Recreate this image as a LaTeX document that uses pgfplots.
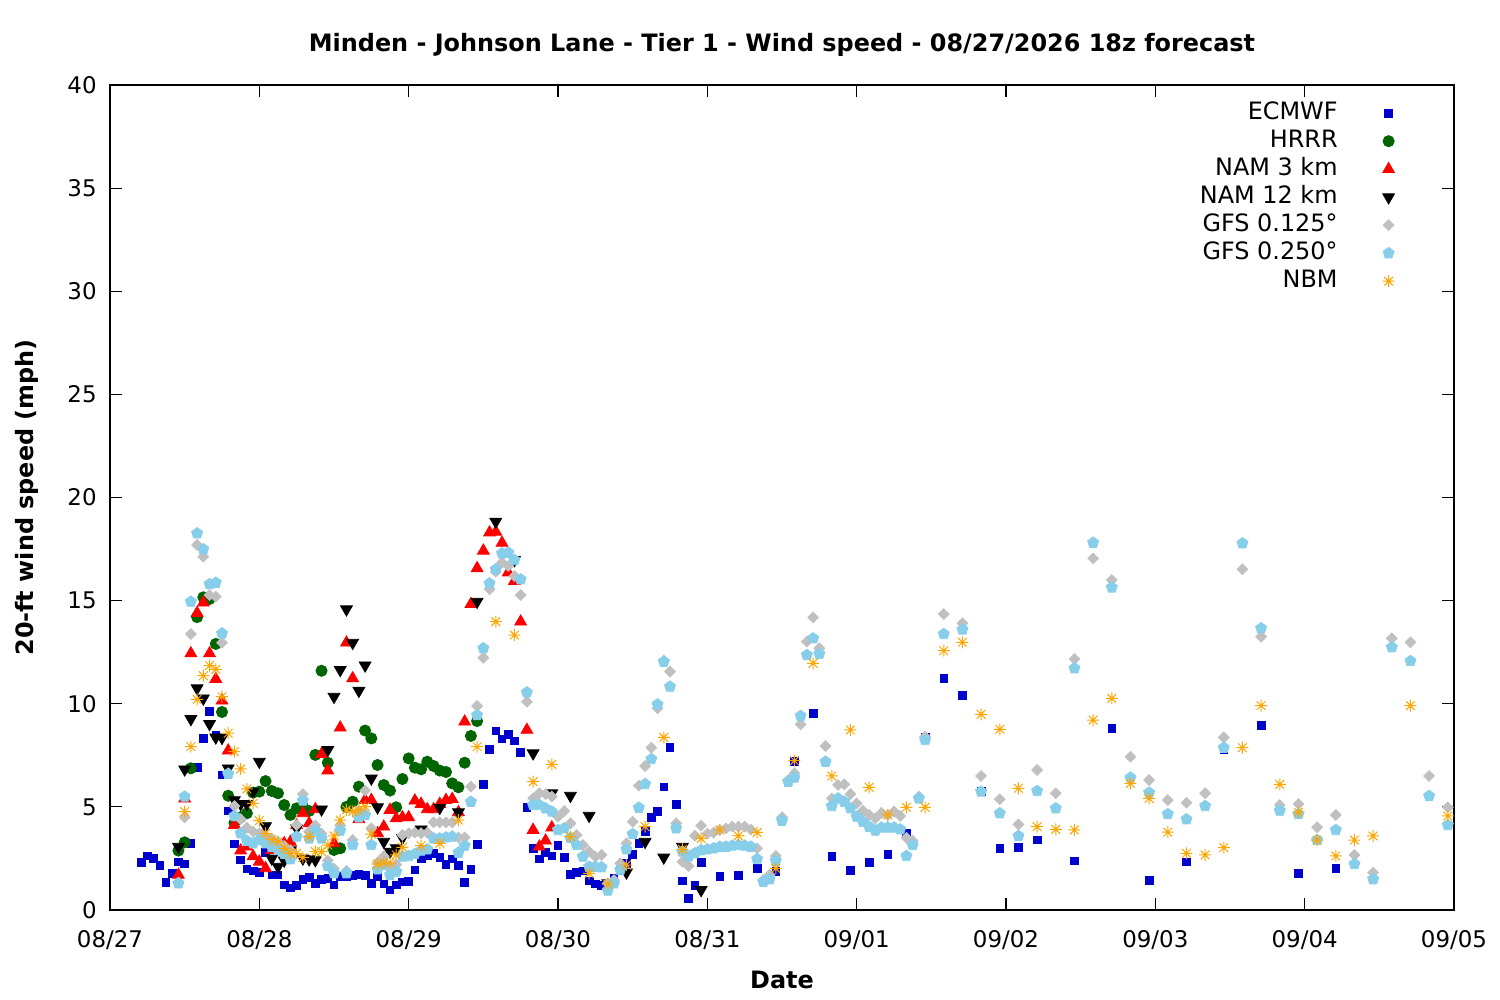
\documentclass[border=0pt]{standalone}
\usepackage{fontspec}
\setmainfont{DejaVu Sans}
\usepackage{pgfplots}
\pgfplotsset{compat=1.18}
\definecolor{cEC}{HTML}{0000CC}
\definecolor{cHR}{HTML}{006400}
\definecolor{cNT}{HTML}{FF0000}
\definecolor{cNW}{HTML}{000000}
\definecolor{cGA}{HTML}{C0C0C0}
\definecolor{cGB}{HTML}{87CEEB}
\definecolor{cNB}{HTML}{FFA500}
\pgfdeclareplotmark{ast8}{%
 \pgfpathmoveto{\pgfqpoint{-\pgfplotmarksize}{0pt}}\pgfpathlineto{\pgfqpoint{\pgfplotmarksize}{0pt}}%
 \pgfpathmoveto{\pgfqpoint{0pt}{-\pgfplotmarksize}}\pgfpathlineto{\pgfqpoint{0pt}{\pgfplotmarksize}}%
 \pgfpathmoveto{\pgfqpoint{-.72\pgfplotmarksize}{-.72\pgfplotmarksize}}\pgfpathlineto{\pgfqpoint{.72\pgfplotmarksize}{.72\pgfplotmarksize}}%
 \pgfpathmoveto{\pgfqpoint{-.72\pgfplotmarksize}{.72\pgfplotmarksize}}\pgfpathlineto{\pgfqpoint{.72\pgfplotmarksize}{-.72\pgfplotmarksize}}%
 \pgfusepathqstroke}
\begin{document}
\begin{tikzpicture}
\path[use as bounding box] (-55bp,-45bp) rectangle (695bp,455bp);
\begin{axis}[
 at={(0,0)}, anchor=south west,
 scale only axis, width=672bp, height=412.5bp,
 xmin=0, xmax=216, ymin=0, ymax=40,
 xtick={0,24,...,216},
 xticklabels={08/27,08/28,08/29,08/30,08/31,09/01,09/02,09/03,09/04,09/05},
 ytick={0,5,...,40},
 tick align=inside,
 major tick length=6bp,
 minor tick num=0,
 axis line style={line width=0.6bp},
 every tick/.style={line width=0.6bp, black},
 /pgf/number format/assume math mode=true,
 tick label style={font=\fontsize{11.5}{13}\selectfont, inner sep=0pt},
 xticklabel style={anchor=north, yshift=-10bp},
 yticklabel style={anchor=east, xshift=-6.5bp},
 title={Minden - Johnson Lane - Tier 1 - Wind speed - 08/27/2026 18z forecast},
 title style={font=\fontsize{12}{14}\selectfont\bfseries, at={(axis description cs:0.5,1)}, anchor=center, yshift=14bp},
 xlabel={Date},
 xlabel style={font=\fontsize{12}{14}\selectfont\bfseries, at={(axis description cs:0.5,0)}, anchor=center, yshift=-35bp},
 ylabel={20-ft wind speed (mph)},
 ylabel style={font=\fontsize{12}{14}\selectfont\bfseries, at={(axis description cs:0,0.5)}, anchor=center, yshift=41.5bp},
 legend plot pos=right,
 legend cell align=right,
 legend style={draw=none, fill=none, at={(axis description cs:1,1)}, anchor=north east, xshift=-29.5bp, yshift=-7.9bp,
   font=\fontsize{12}{14}\selectfont, inner sep=0pt, row sep=2bp, column sep=22.5bp,
   nodes={inner sep=0pt, text height=9bp, text depth=3bp}},
 only marks,
]
\addplot[mark=square*, mark size=1.9bp, color=cEC, mark options={draw=cEC, fill=cEC}] coordinates {
(5,2.31)(6,2.62)(7,2.50)(8,2.15)(9,1.34)(10,1.78)(11,2.34)(12,2.23)(13,3.23)(14,6.92)(15,8.32)(16,9.63)(17,8.47)(18,6.55)(19,4.80)(20,3.20)(21,2.42)(22,1.99)(23,1.89)(24,1.83)(25,2.80)(26,1.70)(27,1.70)(28,1.21)(29,1.08)(30,1.20)(31,1.47)(32,1.57)(33,1.29)(34,1.49)(35,1.54)(36,1.21)(37,1.62)(38,1.62)(39,1.68)(40,1.73)(41,1.68)(42,1.29)(43,1.62)(44,1.26)(45,0.97)(46,1.21)(47,1.37)(48,1.39)(49,1.94)(50,2.50)(51,2.62)(52,2.75)(53,2.55)(54,2.22)(55,2.48)(56,2.15)(57,1.35)(58,1.98)(59,3.19)(60,6.10)(61,7.80)(62,8.69)(63,8.30)(64,8.50)(65,8.20)(66,7.64)(67,4.98)(68,2.99)(69,2.47)(70,2.78)(71,2.63)(72,3.12)(73,2.55)(74,1.73)(75,1.83)(76,1.89)(77,1.41)(78,1.26)(79,1.18)(80,1.21)(81,1.54)(82,1.91)(83,2.26)(84,2.69)(85,3.23)(86,3.80)(87,4.49)(88,4.77)(89,5.96)(90,7.89)(91,5.12)(92,1.41)(93,0.57)(94,1.20)(95,2.31)(98,1.63)(101,1.68)(104,2.02)(107,1.88)(110,7.20)(113,9.54)(116,2.59)(119,1.91)(122,2.31)(125,2.70)(128,3.72)(131,8.36)(134,11.23)(137,10.40)(140,5.74)(143,2.99)(146,3.04)(149,3.39)(155,2.38)(161,8.81)(167,1.44)(173,2.34)(179,7.76)(185,8.95)(191,1.78)(197,2.02)
};
\addlegendentry{ECMWF}
\addplot[mark=*, mark size=2.8bp, color=cHR, mark options={draw=cHR, fill=cHR}] coordinates {
(11,2.88)(12,3.28)(13,6.87)(14,14.20)(15,15.16)(16,15.08)(17,12.90)(18,9.60)(19,5.54)(20,4.23)(21,4.50)(22,4.69)(23,5.69)(24,5.74)(25,6.25)(26,5.77)(27,5.66)(28,5.09)(29,4.61)(30,4.93)(31,5.01)(32,4.80)(33,7.52)(34,11.60)(35,7.14)(36,2.91)(37,2.99)(38,5.00)(39,5.25)(40,5.98)(41,8.70)(42,8.32)(43,7.03)(44,6.06)(45,5.79)(46,4.98)(47,6.35)(48,7.35)(49,6.90)(50,6.82)(51,7.19)(52,6.98)(53,6.76)(54,6.69)(55,6.14)(56,5.95)(57,7.14)(58,8.44)(59,9.16)
};
\addlegendentry{HRRR}
\addplot[mark=triangle*, mark size=3.4bp, color=cNT, mark options={draw=cNT, fill=cNT}] coordinates {
(11,1.70)(12,5.40)(13,12.44)(14,14.40)(15,14.90)(16,12.44)(17,11.20)(18,10.15)(19,7.73)(20,4.12)(21,2.88)(22,3.07)(23,2.60)(24,2.34)(25,2.02)(26,2.90)(27,3.00)(28,3.23)(29,3.30)(30,4.10)(31,4.69)(32,4.20)(33,4.88)(34,7.56)(35,6.76)(36,3.23)(37,8.84)(38,12.96)(39,11.23)(40,4.40)(41,5.33)(42,5.33)(43,3.72)(44,4.04)(45,4.85)(46,4.44)(47,4.49)(48,4.49)(49,5.30)(50,5.14)(51,4.88)(52,4.88)(53,5.14)(54,5.33)(55,5.38)(56,4.74)(57,9.13)(58,14.83)(59,16.57)(60,17.42)(61,18.30)(62,18.34)(63,17.80)(64,16.36)(65,15.95)(66,13.98)(67,8.73)(68,3.88)(69,3.07)(70,3.36)(71,4.00)
};
\addlegendentry{NAM 3 km}
\addplot[mark=triangle*, mark size=3.4bp, color=cNW, mark options={draw=cNW, fill=cNW, rotate=180}] coordinates {
(11,3.07)(12,6.82)(13,9.26)(14,10.75)(15,10.26)(16,9.02)(17,8.37)(18,8.35)(19,6.87)(20,5.33)(21,5.14)(22,5.14)(23,5.74)(24,7.19)(25,4.07)(26,2.50)(27,2.10)(28,2.40)(29,2.90)(30,3.96)(31,2.50)(32,2.46)(33,2.42)(34,4.88)(35,7.76)(36,10.34)(37,11.64)(38,14.58)(39,12.96)(40,10.63)(41,11.86)(42,6.38)(43,4.98)(44,3.31)(45,2.83)(46,3.00)(47,3.50)(50,3.91)(53,4.96)(56,4.74)(59,14.95)(62,18.83)(65,16.97)(68,7.60)(71,5.66)(74,5.54)(77,4.57)(80,1.30)(83,1.82)(86,3.31)(89,2.55)(92,3.07)(95,0.97)
};
\addlegendentry{NAM 12 km}
\addplot[mark=square*, mark size=1.9bp, color=cGA, mark options={draw=cGA, fill=cGA, rotate=45}] coordinates {
(11,1.33)(12,4.49)(13,13.38)(14,17.70)(15,17.13)(16,15.27)(17,15.19)(18,12.96)(19,6.63)(20,5.04)(21,4.40)(22,3.99)(23,3.80)(24,3.72)(25,3.60)(26,3.45)(27,3.30)(28,3.10)(29,2.90)(30,4.12)(31,5.62)(32,3.80)(33,4.10)(34,3.70)(35,2.40)(36,2.00)(37,4.10)(38,1.90)(39,3.40)(40,4.80)(41,5.79)(42,3.96)(43,2.30)(44,2.60)(45,2.00)(46,2.20)(47,3.64)(48,3.72)(49,3.75)(50,3.72)(51,3.75)(52,4.25)(53,4.25)(54,4.25)(55,4.25)(56,3.52)(57,3.52)(58,5.98)(59,9.89)(60,12.23)(61,15.55)(62,16.40)(63,16.84)(64,16.68)(65,16.19)(66,15.27)(67,10.10)(68,5.41)(69,5.66)(70,5.62)(71,5.50)(72,4.53)(73,4.80)(74,4.20)(75,3.64)(76,3.15)(77,2.83)(78,2.59)(79,2.67)(80,1.29)(81,1.45)(82,2.26)(83,3.23)(84,4.28)(85,6.03)(86,6.98)(87,7.87)(88,9.78)(89,12.10)(90,11.56)(91,4.20)(92,2.34)(93,2.13)(94,3.60)(95,4.09)(96,3.70)(97,3.75)(98,3.88)(99,3.95)(100,4.04)(101,4.04)(102,4.04)(103,3.90)(104,2.99)(105,1.45)(106,1.70)(107,2.62)(108,4.50)(109,6.30)(110,6.63)(111,9.00)(112,13.01)(113,14.19)(114,12.69)(115,7.95)(116,5.41)(117,6.06)(118,6.09)(119,5.62)(120,5.17)(121,4.82)(122,4.61)(123,4.44)(124,4.71)(125,4.61)(126,4.77)(127,4.56)(128,3.50)(129,3.36)(130,5.50)(131,8.40)(134,14.35)(137,13.90)(140,6.50)(143,5.37)(146,4.15)(149,6.79)(152,5.66)(155,12.17)(158,17.05)(161,16.00)(164,7.43)(167,6.30)(170,5.33)(173,5.20)(176,5.66)(179,8.37)(182,16.52)(185,13.25)(188,5.09)(191,5.14)(194,4.01)(197,4.61)(200,2.67)(203,1.81)(206,13.17)(209,12.98)(212,6.50)(215,4.98)
};
\addlegendentry{GFS 0.125°}
\addplot[mark=pentagon*, mark size=2.9bp, color=cGB, mark options={draw=cGB, fill=cGB}] coordinates {
(11,1.29)(12,5.50)(13,14.95)(14,18.26)(15,17.49)(16,15.80)(17,15.87)(18,13.41)(19,6.60)(20,4.56)(21,3.72)(22,3.36)(23,3.23)(24,3.39)(25,3.23)(26,3.07)(27,2.91)(28,2.72)(29,2.46)(30,3.56)(31,5.31)(32,3.47)(33,3.85)(34,3.47)(35,2.13)(36,1.78)(37,3.85)(38,1.78)(39,3.15)(40,4.49)(41,4.60)(42,3.15)(43,1.97)(44,2.18)(45,1.70)(46,1.86)(47,2.59)(48,2.62)(49,2.72)(50,2.88)(51,2.94)(52,3.47)(53,3.47)(54,3.52)(55,3.56)(56,2.78)(57,3.12)(58,5.25)(59,9.45)(60,12.69)(61,15.84)(62,16.52)(63,17.29)(64,17.33)(65,16.97)(66,16.03)(67,10.55)(68,5.09)(69,5.09)(70,4.93)(71,4.77)(72,3.88)(73,3.96)(74,3.50)(75,3.15)(76,2.59)(77,2.10)(78,2.10)(79,2.07)(80,0.94)(81,1.29)(82,1.94)(83,2.94)(84,3.68)(85,4.96)(86,6.11)(87,7.32)(88,9.97)(89,12.04)(90,10.83)(91,3.96)(92,2.83)(93,2.60)(94,2.75)(95,2.90)(96,2.94)(97,2.99)(98,3.07)(99,3.07)(100,3.12)(101,3.15)(102,3.12)(103,3.07)(104,2.47)(105,1.37)(106,1.49)(107,2.39)(108,4.33)(109,6.22)(110,6.42)(111,9.41)(112,12.36)(113,13.17)(114,12.41)(115,7.19)(116,5.04)(117,5.41)(118,5.25)(119,4.93)(120,4.53)(121,4.28)(122,4.04)(123,3.85)(124,4.00)(125,4.00)(126,4.00)(127,3.91)(128,2.62)(129,3.15)(130,5.41)(131,8.24)(134,13.38)(137,13.60)(140,5.74)(143,4.69)(146,3.59)(149,5.77)(152,4.93)(155,11.72)(158,17.81)(161,15.64)(164,6.42)(167,5.69)(170,4.65)(173,4.40)(176,5.04)(179,7.87)(182,17.78)(185,13.66)(188,4.82)(191,4.65)(194,3.39)(197,3.88)(200,2.23)(203,1.49)(206,12.74)(209,12.07)(212,5.53)(215,4.12)
};
\addlegendentry{GFS 0.250°}
\addplot[mark=ast8, mark size=3bp, color=cNB, mark options={draw=cNB, line width=0.5bp}] coordinates {
(12,4.77)(13,7.92)(14,10.21)(15,11.36)(16,11.85)(17,11.67)(18,10.34)(19,8.57)(20,7.68)(21,6.84)(22,5.87)(23,5.17)(24,4.33)(25,3.72)(26,3.43)(27,3.31)(28,2.99)(29,2.75)(30,2.75)(31,2.55)(32,3.56)(33,2.83)(34,2.83)(35,3.15)(36,3.59)(37,4.36)(38,4.85)(39,4.77)(40,4.85)(41,5.01)(42,3.68)(43,2.23)(44,2.29)(45,2.29)(46,2.67)(47,3.04)(50,3.12)(53,3.23)(56,4.36)(59,7.92)(62,13.98)(65,13.33)(68,6.22)(71,7.06)(74,3.56)(77,1.78)(80,1.25)(83,2.18)(86,4.04)(89,8.37)(92,2.94)(95,3.47)(98,3.88)(101,3.60)(104,3.76)(107,2.02)(110,7.24)(113,11.96)(116,6.50)(119,8.73)(122,5.95)(125,4.61)(128,4.98)(131,4.98)(134,12.57)(137,12.98)(140,9.49)(143,8.76)(146,5.90)(149,4.04)(152,3.91)(155,3.88)(158,9.21)(161,10.26)(164,6.14)(167,5.41)(170,3.77)(173,2.75)(176,2.67)(179,3.02)(182,7.87)(185,9.91)(188,6.09)(191,4.74)(194,3.39)(197,2.62)(200,3.39)(203,3.59)(209,9.91)(215,4.56)
};
\addlegendentry{NBM}
\end{axis}
\end{tikzpicture}
\end{document}
